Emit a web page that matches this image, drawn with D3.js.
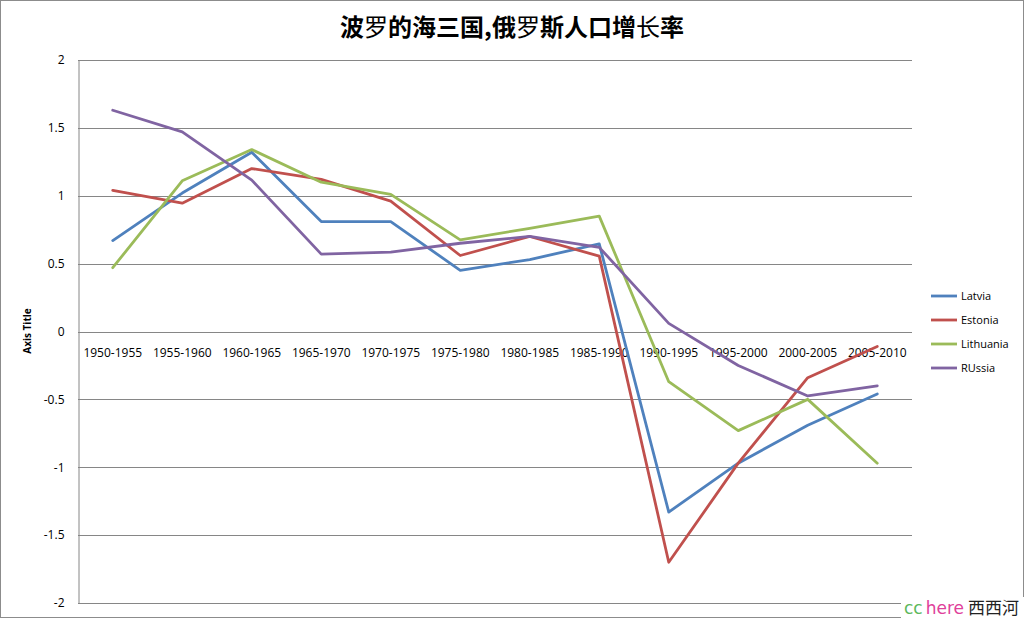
<!DOCTYPE html>
<html><head><meta charset="utf-8">
<script src="https://cdn.jsdelivr.net/npm/d3@7"></script>
<style>body{margin:0;background:#fff}svg{display:block}</style>
</head><body>
<svg id="c" width="1026" height="620"></svg>
<script>
const categories = ["1950-1955","1955-1960","1960-1965","1965-1970","1970-1975","1975-1980","1980-1985","1985-1990","1990-1995","1995-2000","2000-2005","2005-2010"];
const latvia    = [0.67, 1.02, 1.32, 0.81, 0.81, 0.45, 0.53, 0.645, -1.33, -0.97, -0.69, -0.46];
const estonia   = [1.04, 0.945, 1.20, 1.12, 0.96, 0.56, 0.70, 0.555, -1.70, -0.97, -0.34, -0.11];
const lithuania = [0.47, 1.11, 1.34, 1.10, 1.01, 0.675, 0.76, 0.85, -0.37, -0.73, -0.50, -0.97];
const russia    = [1.63, 1.47, 1.115, 0.57, 0.585, 0.65, 0.70, 0.62, 0.06, -0.25, -0.475, -0.40];
const seriesNames = ["Latvia","Estonia","Lithuania","RUssia"];
const yTicks = [2, 1.5, 1, 0.5, 0, -0.5, -1, -1.5, -2];

const series = [
  {name: seriesNames[0], values: latvia, color: "#4F81BD"},
  {name: seriesNames[1], values: estonia, color: "#C0504D"},
  {name: seriesNames[2], values: lithuania, color: "#9BBB59"},
  {name: seriesNames[3], values: russia, color: "#8064A2"}
];

const svg = d3.select("#c");
const font = "'Open Sans', 'DejaVu Sans', sans-serif";
const L = 78, R = 912, T = 60, B = 603;

svg.append("rect").attr("x",0.5).attr("y",0.5).attr("width",1023).attr("height",617)
  .attr("fill","#fff").attr("stroke","#8c8c8c");

const x = d3.scaleBand().domain(categories).range([L, R]);
const y = d3.scaleLinear().domain([-2, 2]).range([B, T]);

// gridlines
svg.append("g").selectAll("line").data(yTicks).join("line")
  .attr("x1", L).attr("x2", R)
  .attr("y1", d => Math.round(y(d)) + 0.5).attr("y2", d => Math.round(y(d)) + 0.5)
  .attr("stroke", "#868686").attr("stroke-width", 1);

// y axis
const yAxis = d3.axisLeft(y).tickValues(yTicks).tickSize(0).tickPadding(14).tickFormat(d => String(d));
const gy = svg.append("g").attr("transform", `translate(${L+0.5},0)`).call(yAxis);
gy.select(".domain").attr("stroke", "#868686");
gy.selectAll("text").attr("font-family", font).attr("font-size", 12).attr("fill", "#000");

// x axis labels at zero line
const xAxis = d3.axisBottom(x).tickSize(0).tickPadding(16);
const gx = svg.append("g").attr("transform", `translate(0,${Math.round(y(0))+0.5})`).call(xAxis);
gx.select(".domain").remove();
gx.selectAll("text").attr("font-family", font).attr("font-size", 12).attr("fill", "#000");

// lines
const line = d3.line().x((d, i) => x(categories[i]) + x.bandwidth()/2).y(d => y(d));
svg.append("g").selectAll("path").data(series).join("path")
  .attr("d", d => line(d.values))
  .attr("fill", "none").attr("stroke", d => d.color).attr("stroke-width", 2.8)
  .attr("stroke-linejoin", "round").attr("stroke-linecap", "round");

// title
const title = svg.append("text").attr("x", 512).attr("y", 36).attr("text-anchor", "middle")
  .attr("font-family", "'Noto Sans CJK SC', sans-serif").attr("font-size", 24).attr("fill", "#000");
[["波", true],["罗", false],["的海三国,俄", true],["罗", false],["斯人口增", true],["长", false],["率", true]]
  .forEach(([t, b]) => title.append("tspan").attr("font-weight", b ? "bold" : "normal").text(t));

// axis title
svg.append("text").attr("transform", "translate(31,331) rotate(-90)").attr("text-anchor", "middle")
  .attr("font-family", font).attr("font-size", 10).attr("font-weight", "bold").text("Axis Title");

// legend
const lg = svg.append("g").selectAll("g").data(series).join("g")
  .attr("transform", (d, i) => `translate(931,${296 + i*24})`);
lg.append("line").attr("x1", 0).attr("x2", 26).attr("y1", 0).attr("y2", 0)
  .attr("stroke", d => d.color).attr("stroke-width", 2.8);
lg.append("text").attr("x", 30).attr("y", 4).attr("font-family", font).attr("font-size", 11)
  .text(d => d.name);

// watermark
svg.append("rect").attr("x", 901).attr("y", 597).attr("width", 125).attr("height", 23).attr("fill", "#fff");
const wm = svg.append("text").attr("x", 904).attr("y", 614).attr("font-family", "'DejaVu Sans', sans-serif").attr("font-size", 17);
wm.append("tspan").attr("fill", "#5cb85c").text("cc");
wm.append("tspan").attr("fill", "#e0409a").attr("dx", 3).text("here");
wm.append("tspan").attr("fill", "#222").attr("dx", 4).attr("font-family", "'Noto Sans CJK SC', sans-serif").attr("font-size", 17).text("西西河");
</script>
</body></html>
